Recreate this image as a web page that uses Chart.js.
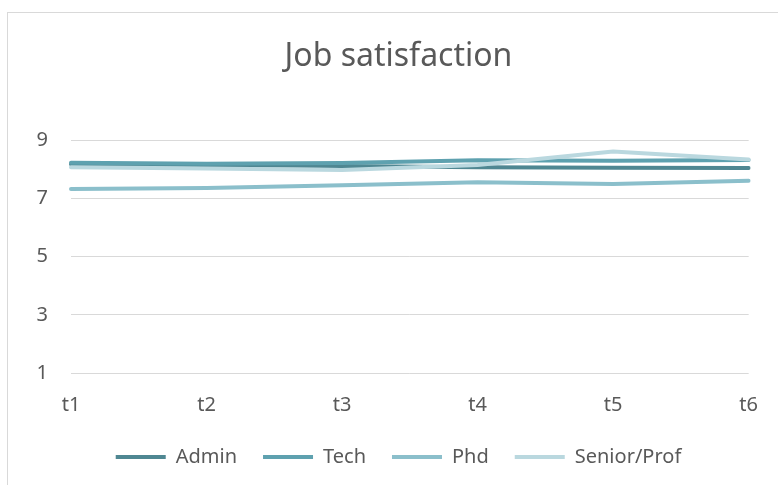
<!DOCTYPE html>
<html>
<head>
<meta charset="utf-8">
<script src="https://cdn.jsdelivr.net/npm/chart.js@4/dist/chart.umd.min.js"></script>
<style>
  html, body { margin: 0; padding: 0; background: #fff; }
  #wrap { position: relative; width: 778px; height: 485px; overflow: hidden; }
  #frame { position: absolute; left: 7px; top: 12px; width: 800px; height: 500px;
           border-left: 1px solid #d9d9d9; border-top: 1px solid #d9d9d9; }
  canvas { position: absolute; left: 0; top: 0; }
</style>
</head>
<body>
<div id="wrap">
  <div id="frame"></div>
  <canvas id="jobChart" width="778" height="485"></canvas>
</div>
<script>
// === JOB SATISFACTION CHART ===

const periods = ['t1', 't2', 't3', 't4', 't5', 't6'];
const adminScores = [8.18, 8.15, 8.12, 8.08, 8.06, 8.05];
const techScores = [8.23, 8.20, 8.22, 8.32, 8.30, 8.33];
const phdScores = [7.33, 7.36, 7.46, 7.56, 7.50, 7.61];
const seniorScores = [8.08, 8.03, 7.98, 8.15, 8.62, 8.34];
const yTicks = [1, 3, 5, 7, 9];

const TEXT = '#595959';
const GRID = '#d9d9d9';
const FONT = "'Noto Sans', 'Open Sans', sans-serif";

function lineSet(label, data, color, order) {
    return {
        label, data, order,
        borderColor: color, backgroundColor: color,
        borderWidth: 4, borderCapStyle: 'round', borderJoinStyle: 'round',
        pointRadius: 0, pointHoverRadius: 0, tension: 0, fill: false
    };
}

const ctx = document.getElementById('jobChart').getContext('2d');
ctx.font = `20px ${FONT}`;
// widest y label, so right-aligned mirrored ticks end 23px left of the plot
const yLabelWidth = Math.max(...yTicks.map(v => ctx.measureText(String(v)).width));

new Chart(ctx, {
    type: 'line',
    data: {
        labels: periods,
        datasets: [
            lineSet('Admin', adminScores, '#4f8792', 4),
            lineSet('Tech', techScores, '#5ea1af', 3),
            lineSet('Phd', phdScores, '#8bbfcb', 2),
            lineSet('Senior/Prof', seniorScores, '#bad8df', 1)
        ]
    },
    options: {
        responsive: false, animation: false,
        layout: { padding: { top: 12, right: 27, bottom: 8, left: 46 } },
        plugins: {
            title: {
                display: true, text: 'Job satisfaction', color: TEXT,
                font: { family: FONT, size: 32, weight: 'normal' },
                padding: { top: 26, bottom: 64 }
            },
            legend: {
                display: true, position: 'bottom',
                labels: {
                    color: TEXT, font: { family: FONT, size: 20 },
                    usePointStyle: true, pointStyle: 'line', pointStyleWidth: 50,
                    padding: 26,
                    sort: (a, b) => a.datasetIndex - b.datasetIndex
                }
            },
            tooltip: { enabled: false }
        },
        scales: {
            x: {
                offset: false,
                afterFit: s => { s.height -= 16; },
                grid: { display: false, drawTicks: false },
                border: { display: false },
                ticks: { color: TEXT, font: { family: FONT, size: 20 }, padding: 20, maxRotation: 0 }
            },
            y: {
                min: 1, max: 9,
                afterBuildTicks: s => { s.ticks = yTicks.map(v => ({ value: v })); },
                afterFit: s => { s.width = 25; },
                grid: { color: GRID, lineWidth: 1, drawTicks: false },
                border: { display: false },
                ticks: {
                    color: TEXT, font: { family: FONT, size: 20 },
                    mirror: true, crossAlign: 'far', padding: -23 - yLabelWidth
                }
            }
        }
    }
});
</script>
</body>
</html>
